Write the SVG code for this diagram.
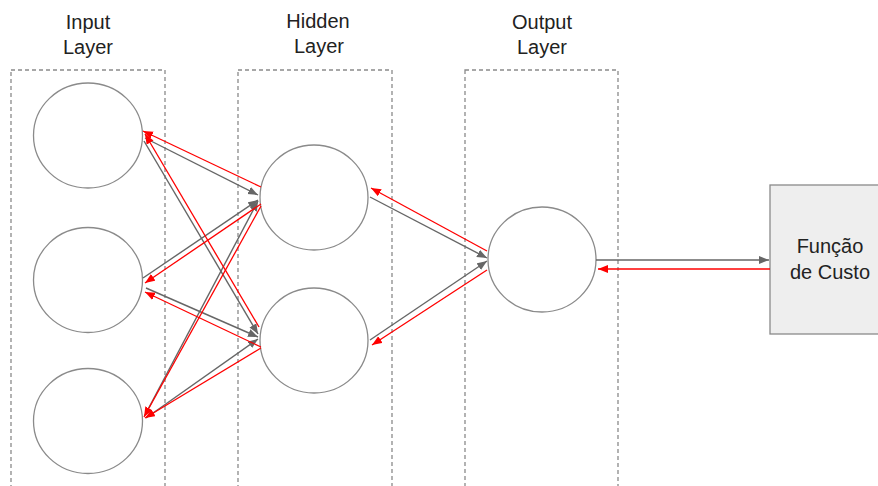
<svg xmlns="http://www.w3.org/2000/svg" width="878" height="486" viewBox="0 0 878 486">
  <style>
    .layer { fill: none; stroke: #8a8a8a; stroke-width: 1.3; stroke-dasharray: 4 3; }
    .node { fill: #ffffff; stroke: #8a8a8a; stroke-width: 1.3; }
    .cost { fill: #eeeeee; stroke: #8a8a8a; stroke-width: 1.3; }
    .label { font-family: "Liberation Sans", Arial, sans-serif; font-size: 20px; fill: #222222; text-anchor: middle; }
    .fwd { stroke: #666666; stroke-width: 1.4; fill: none; marker-end: url(#arrowGray); }
    .back { stroke: #ff0000; stroke-width: 1.3; fill: none; marker-end: url(#arrowRed); }
  </style>
  <defs>
    <marker id="arrowGray" markerUnits="userSpaceOnUse" markerWidth="11" markerHeight="9" refX="10" refY="4" orient="auto">
      <path d="M0,0 L10,4 L0,8 z" fill="#666666"/>
    </marker>
    <marker id="arrowRed" markerUnits="userSpaceOnUse" markerWidth="11" markerHeight="9" refX="10" refY="4" orient="auto">
      <path d="M0,0 L10,4 L0,8 z" fill="#ff0000"/>
    </marker>
  </defs>
  <rect width="878" height="486" fill="#ffffff"/>

  <!-- layer titles -->
  <g id="title-input">
    <text class="label" x="88" y="29">Input</text>
    <text class="label" x="88" y="54">Layer</text>
  </g>
  <g id="title-hidden">
    <text class="label" x="318" y="28">Hidden</text>
    <text class="label" x="319" y="53">Layer</text>
  </g>
  <g id="title-output">
    <text class="label" x="542" y="29">Output</text>
    <text class="label" x="542" y="54">Layer</text>
  </g>

  <!-- dashed layer frames, open at the bottom edge -->
  <g id="frames">
    <rect id="frame-input" class="layer" x="11" y="70" width="154" height="430"/>
    <rect id="frame-hidden" class="layer" x="238" y="70" width="154" height="430"/>
    <rect id="frame-output" class="layer" x="465" y="70" width="153" height="430"/>
  </g>

  <!-- neurons -->
  <g id="input-1"><ellipse class="node" cx="88" cy="135.5" rx="54.5" ry="52.5"/></g>
  <g id="input-2"><ellipse class="node" cx="88" cy="280" rx="54.5" ry="52.5"/></g>
  <g id="input-3"><ellipse class="node" cx="88" cy="421" rx="54.5" ry="52.5"/></g>
  <g id="hidden-1"><ellipse class="node" cx="314" cy="197.5" rx="54" ry="52.5"/></g>
  <g id="hidden-2"><ellipse class="node" cx="314" cy="340.5" rx="54" ry="52.5"/></g>
  <g id="output-1"><ellipse class="node" cx="542" cy="259.5" rx="54" ry="52.5"/></g>

  <!-- cost function block -->
  <g id="cost-function">
    <rect class="cost" x="770" y="185" width="112" height="149"/>
    <text class="label" x="830" y="253">Função</text>
    <text class="label" x="830" y="279">de Custo</text>
  </g>

  <!-- connectors: grey = forward pass, red = backpropagation -->
  <g id="connectors">
    <line class="fwd" x1="145" y1="138" x2="258" y2="195"/>
    <line class="fwd" x1="144" y1="141" x2="258" y2="334"/>
    <line class="fwd" x1="143" y1="278" x2="258" y2="200"/>
    <line class="fwd" x1="146" y1="288" x2="258" y2="337"/>
    <line class="fwd" x1="145" y1="415" x2="258" y2="201"/>
    <line class="fwd" x1="146" y1="418" x2="258" y2="339"/>
    <line class="fwd" x1="370" y1="197" x2="487" y2="258"/>
    <line class="fwd" x1="370" y1="340" x2="487" y2="261"/>
    <line class="fwd" x1="596" y1="260" x2="769" y2="260"/>

    <line class="back" x1="261" y1="187" x2="143" y2="131"/>
    <line class="back" x1="259" y1="327" x2="145" y2="134"/>
    <line class="back" x1="261" y1="204" x2="145" y2="283"/>
    <line class="back" x1="261" y1="347" x2="145" y2="292"/>
    <line class="back" x1="261" y1="206" x2="144" y2="417"/>
    <line class="back" x1="261" y1="348" x2="145" y2="418"/>
    <line class="back" x1="487" y1="251" x2="371" y2="188"/>
    <line class="back" x1="487" y1="270" x2="372" y2="345"/>
    <line class="back" x1="770" y1="269" x2="598" y2="269"/>
  </g>
</svg>
